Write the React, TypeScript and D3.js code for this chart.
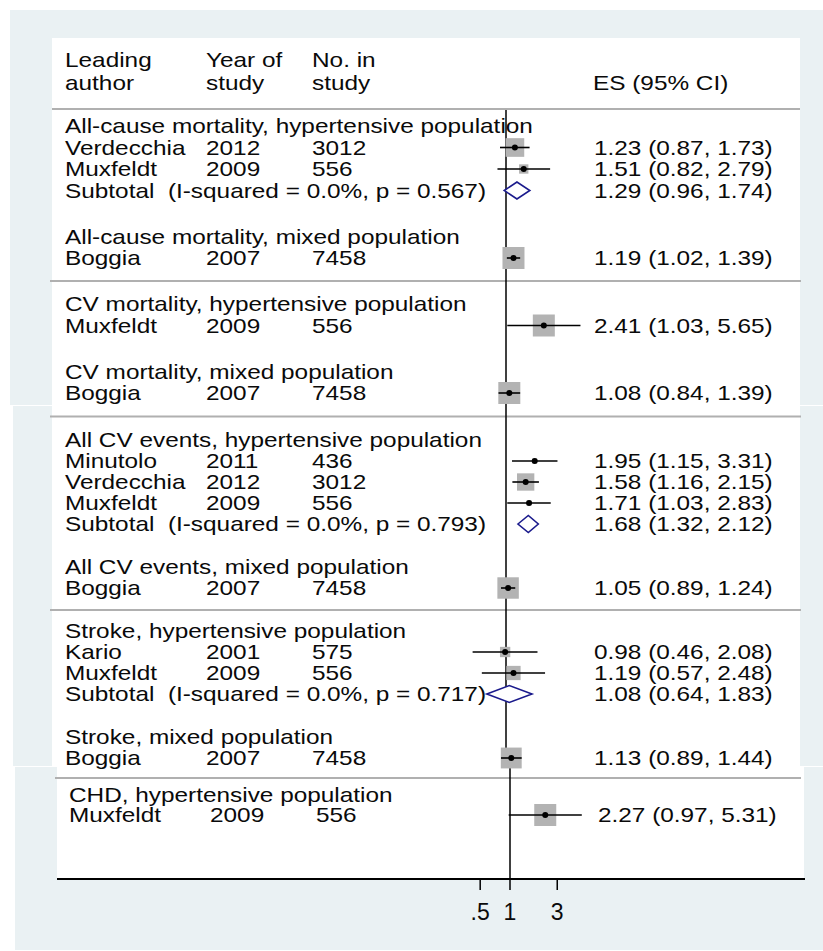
import React from "react";
import * as d3 from "d3";

// ---------------- DATA ----------------
const subgroupTitles = [
  "All-cause mortality, hypertensive population",
  "All-cause mortality, mixed population",
  "CV mortality, hypertensive population",
  "CV mortality, mixed population",
  "All CV events, hypertensive population",
  "All CV events, mixed population",
  "Stroke, hypertensive population",
  "Stroke, mixed population",
  "CHD, hypertensive population",
];
const studyGroup = [0, 0, 1, 2, 3, 4, 4, 4, 5, 6, 6, 7, 8];
const studyAuthor = ["Verdecchia", "Muxfeldt", "Boggia", "Muxfeldt", "Boggia", "Minutolo", "Verdecchia", "Muxfeldt", "Boggia", "Kario", "Muxfeldt", "Boggia", "Muxfeldt"];
const studyYear = [2012, 2009, 2007, 2009, 2007, 2011, 2012, 2009, 2007, 2001, 2009, 2007, 2009];
const studyN = [3012, 556, 7458, 556, 7458, 436, 3012, 556, 7458, 575, 556, 7458, 556];
const studyES = [1.23, 1.51, 1.19, 2.41, 1.08, 1.95, 1.58, 1.71, 1.05, 0.98, 1.19, 1.13, 2.27];
const studyLo = [0.87, 0.82, 1.02, 1.03, 0.84, 1.15, 1.16, 1.03, 0.89, 0.46, 0.57, 0.89, 0.97];
const studyHi = [1.73, 2.79, 1.39, 5.65, 1.39, 3.31, 2.15, 2.83, 1.24, 2.08, 2.48, 1.44, 5.31];
const studyWeight = [72, 18, 100, 100, 100, 5, 62, 5, 95, 22, 42, 90, 100];

const subtotalGroup = [0, 4, 6];
const subtotalI2 = [0.0, 0.0, 0.0];
const subtotalP = [0.567, 0.793, 0.717];
const subtotalES = [1.29, 1.68, 1.08];
const subtotalLo = [0.96, 1.32, 0.64];
const subtotalHi = [1.74, 2.12, 1.83];

const separatorAfterGroup = [1, 3, 5, 7];
const xTicks = [0.5, 1, 3];
const xTickLabels = [".5", "1", "3"];

const headerCols = [
  ["Leading", "author"],
  ["Year of", "study"],
  ["No. in", "study"],
];
const esHeader = "ES (95% CI)";

// ---------------- LAYOUT ----------------
const W = 823;
const H = 951;
const FS = 21;
const SX = 1.16;
const FONT = "'Liberation Sans', Arial, Helvetica, sans-serif";
const colX = [65, 206, 312];
const esX = 594;
const pxPerLn = 43;
const nullX = 506;
const axisY = 879;

const pieces = [
  { groups: [0, 1, 2, 3], start: 133, step: 21.5, gap: 46, dx: 0 },
  { groups: [4, 5, 6, 7], start: 447, step: 21, gap: 43, dx: 0 },
  { groups: [8], start: 802, step: 20, gap: 0, dx: 4 },
];

const x = d3
  .scaleLog()
  .domain([0.1, 10])
  .range([nullX - pxPerLn * Math.log(10), nullX + pxPerLn * Math.log(10)]);

const fmt = d3.format(".2f");

type Row = { kind: "head" | "study" | "sub"; group: number; idx: number; y: number; dx: number };

function buildRows(): Row[] {
  const rows: Row[] = [];
  pieces.forEach((p) => {
    let y = p.start;
    p.groups.forEach((g, gi) => {
      if (gi > 0) y += p.gap;
      rows.push({ kind: "head", group: g, idx: g, y, dx: p.dx });
      studyGroup.forEach((sg, si) => {
        if (sg === g) {
          y += p.step;
          rows.push({ kind: "study", group: g, idx: si, y, dx: p.dx });
        }
      });
      const sub = subtotalGroup.indexOf(g);
      if (sub >= 0) {
        y += p.step;
        rows.push({ kind: "sub", group: g, idx: sub, y, dx: p.dx });
      }
    });
  });
  return rows;
}

const T = ({ x, y, children, size = FS, sx = SX, anchor = "start" }: any) => (
  <text
    transform={`translate(${x},${y}) scale(${sx},1)`}
    fontSize={size}
    fontFamily={FONT}
    fill="#0a0a0a"
    textAnchor={anchor}
    style={{ whiteSpace: "pre" }}
  >
    {children}
  </text>
);

export default function App() {
  const rows = buildRows();
  const lastY = (g: number) => d3.max(rows.filter((r) => r.group === g), (r) => r.y) as number;
  const headY = (g: number) => rows.find((r) => r.group === g && r.kind === "head")!.y;
  const bx = (v: number, dx: number) => x(v) + dx;
  const boxSize = d3.scaleSqrt().domain([0, 100]).range([0, 22]);

  return (
    <>
      <style>{"html,body{margin:0;padding:0;overflow:hidden;background:#fff}"}</style>
      <svg width={W} height={H} style={{ display: "block" }}>
        <rect x={0} y={0} width={W} height={H} fill="#ffffff" />
        {/* outer gray regions (composite pieces) */}
        <rect x={10} y={10} width={W - 10} height={395} fill="#eaf1f3" />
        <rect x={13} y={406} width={W - 13} height={360} fill="#eaf1f3" />
        <rect x={15} y={767} width={W - 15} height={183} fill="#eaf1f3" />
        {/* white plot regions */}
        <rect x={52} y={38} width={748} height={728} fill="#ffffff" />
        <rect x={57} y={766} width={747} height={axisY - 766} fill="#ffffff" />

        {/* header */}
        {headerCols.map((lines, i) =>
          lines.map((t, j) => (
            <T key={`h${i}${j}`} x={colX[i]} y={67 + j * 23}>
              {t}
            </T>
          ))
        )}
        <T x={esX - 1} y={90}>
          {esHeader}
        </T>
        <line x1={52} x2={800} y1={109} y2={109} stroke="#b0b0b0" strokeWidth={2} />

        {/* separators */}
        {separatorAfterGroup.map((g) => {
          const l = lastY(g);
          const n = headY(g + 1);
          const y = l + 0.35 * (n - l);
          const bottom = g === 7;
          return (
            <line
              key={`sep${g}`}
              x1={bottom ? 55 : 50}
              x2={801}
              y1={y}
              y2={y}
              stroke="#b0b0b0"
              strokeWidth={2}
            />
          );
        })}

        {/* null line */}
        <line x1={bx(1, 0)} x2={bx(1, 0)} y1={110} y2={766} stroke="#000" strokeWidth={1.5} />
        <line x1={bx(1, 4)} x2={bx(1, 4)} y1={766} y2={axisY} stroke="#000" strokeWidth={1.5} />

        {/* rows */}
        {rows.map((r, i) => {
          if (r.kind === "head") {
            return (
              <T key={`r${i}`} x={colX[0] + r.dx} y={r.y}>
                {subgroupTitles[r.idx]}
              </T>
            );
          }
          const cy = r.y - 7;
          if (r.kind === "study") {
            const s = r.idx;
            const sz = boxSize(studyWeight[s]);
            const cx = bx(studyES[s], r.dx);
            return (
              <g key={`r${i}`}>
                <T x={colX[0] + r.dx} y={r.y}>{studyAuthor[s]}</T>
                <T x={colX[1] + r.dx} y={r.y}>{String(studyYear[s])}</T>
                <T x={colX[2] + r.dx} y={r.y}>{String(studyN[s])}</T>
                <rect x={cx - sz / 2} y={cy - sz / 2} width={sz} height={sz} fill="#b3b3b3" />
                <line
                  x1={bx(studyLo[s], r.dx)}
                  x2={bx(studyHi[s], r.dx)}
                  y1={cy}
                  y2={cy}
                  stroke="#000"
                  strokeWidth={1.6}
                />
                <circle cx={cx} cy={cy} r={3} fill="#000" />
                <T x={esX + r.dx} y={r.y}>
                  {`${fmt(studyES[s])} (${fmt(studyLo[s])}, ${fmt(studyHi[s])})`}
                </T>
              </g>
            );
          }
          const k = r.idx;
          const xl = bx(subtotalLo[k], r.dx);
          const xe = bx(subtotalES[k], r.dx);
          const xh = bx(subtotalHi[k], r.dx);
          const hh = 8.5;
          return (
            <g key={`r${i}`}>
              <T x={colX[0] + r.dx} y={r.y}>
                {`Subtotal  (I-squared = ${subtotalI2[k].toFixed(1)}%, p = ${subtotalP[k].toFixed(3)})`}
              </T>
              <polygon
                points={`${xl},${cy} ${xe},${cy - hh} ${xh},${cy} ${xe},${cy + hh}`}
                fill="#fff"
                stroke="#1a1a8c"
                strokeWidth={1.6}
              />
              <T x={esX + r.dx} y={r.y}>
                {`${fmt(subtotalES[k])} (${fmt(subtotalLo[k])}, ${fmt(subtotalHi[k])})`}
              </T>
            </g>
          );
        })}

        {/* x axis */}
        <line x1={57} x2={805} y1={axisY} y2={axisY} stroke="#000" strokeWidth={2} />
        {xTicks.map((t, i) => (
          <g key={`t${i}`}>
            <line x1={bx(t, 4)} x2={bx(t, 4)} y1={axisY} y2={axisY + 11} stroke="#000" strokeWidth={1.5} />
            <T x={bx(t, 4)} y={920} size={23} sx={1} anchor="middle">
              {xTickLabels[i]}
            </T>
          </g>
        ))}
      </svg>
    </>
  );
}
